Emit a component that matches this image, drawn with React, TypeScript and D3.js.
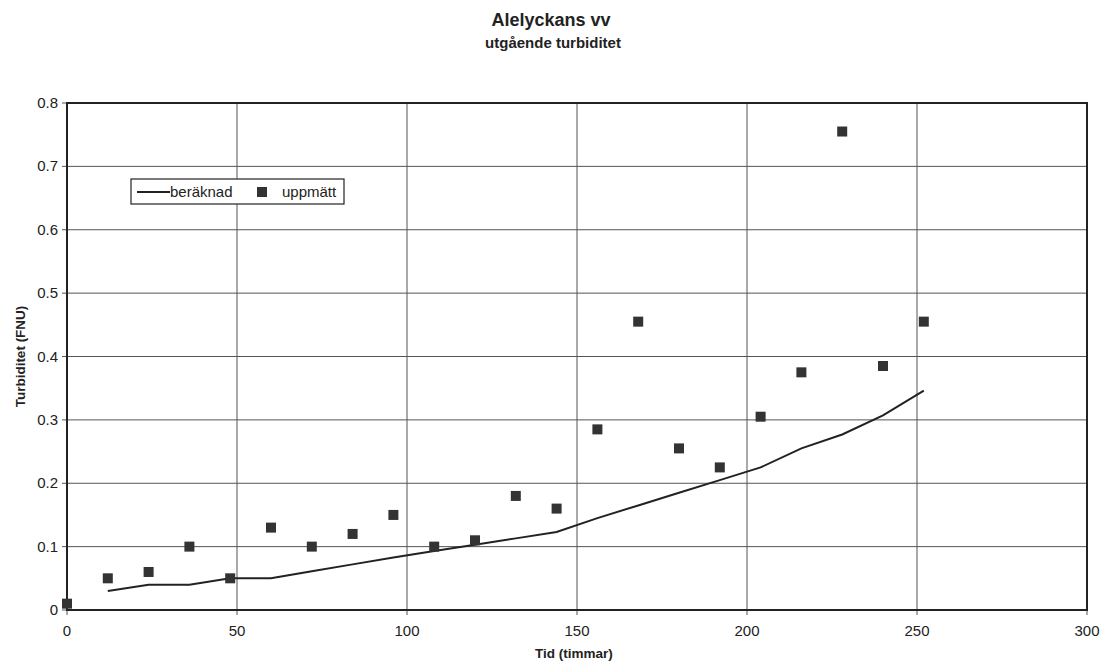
import React from "react";
import { scaleLinear, line, range } from "d3";

// hours since start
const hours = [0, 12, 24, 36, 48, 60, 72, 84, 96, 108, 120, 132, 144, 156, 168, 180, 192, 204, 216, 228, 240, 252];
// measured turbidity (uppmätt)
const measured = [0.01, 0.05, 0.06, 0.1, 0.05, 0.13, 0.1, 0.12, 0.15, 0.1, 0.11, 0.18, 0.16, 0.285, 0.455, 0.255, 0.225, 0.305, 0.375, 0.755, 0.385, 0.455];
// calculated turbidity (beräknad), starts at 12 h
const calcHours = [12, 24, 36, 48, 60, 72, 84, 96, 108, 120, 132, 144, 156, 168, 180, 192, 204, 216, 228, 240, 252];
const calculated = [0.03, 0.04, 0.04, 0.05, 0.05, 0.061, 0.072, 0.083, 0.093, 0.103, 0.113, 0.123, 0.145, 0.165, 0.185, 0.205, 0.225, 0.255, 0.277, 0.307, 0.346];

const xTicks = [0, 50, 100, 150, 200, 250, 300];
const yTicks = [0, 0.1, 0.2, 0.3, 0.4, 0.5, 0.6, 0.7, 0.8];

const W = 1102;
const H = 666;
const margin = { top: 103, right: 15, bottom: 56, left: 67 };

export default function App() {
  const x = scaleLinear().domain([0, 300]).range([margin.left, W - margin.right]);
  const y = scaleLinear().domain([0, 0.8]).range([H - margin.bottom, margin.top]);

  const calcLine = line<number>()
    .x((_, i) => x(calcHours[i]))
    .y((d) => y(d));

  const font = "'Liberation Sans', Arial, sans-serif";
  const ink = "#222";
  const sq = 10;

  return (
    <svg
      width={W}
      height={H}
      style={{ position: "absolute", left: 0, top: 0, background: "#fff" }}
      fontFamily={font}
    >
      {/* titles */}
      <text x={551} y={26} textAnchor="middle" fontSize={18} fontWeight="bold" fill={ink}>
        Alelyckans vv
      </text>
      <text x={553} y={48} textAnchor="middle" fontSize={15} fontWeight="bold" fill={ink}>
        utgående turbiditet
      </text>

      {/* gridlines */}
      {yTicks.map((t) => (
        <line key={"gy" + t} x1={x(0) - 5} x2={x(300)} y1={y(t)} y2={y(t)} stroke="#555" strokeWidth={1} />
      ))}
      {xTicks.map((t) => (
        <line key={"gx" + t} x1={x(t)} x2={x(t)} y1={y(0.8)} y2={y(0) + 5} stroke="#555" strokeWidth={1} />
      ))}

      {/* frame */}
      <rect
        x={x(0)}
        y={y(0.8)}
        width={x(300) - x(0)}
        height={y(0) - y(0.8)}
        fill="none"
        stroke={ink}
        strokeWidth={2}
      />

      {/* tick labels */}
      {yTicks.map((t) => (
        <text key={"ly" + t} x={x(0) - 9} y={y(t) + 5} textAnchor="end" fontSize={15} fill={ink}>
          {t === 0 ? "0" : t.toFixed(1)}
        </text>
      ))}
      {xTicks.map((t) => (
        <text key={"lx" + t} x={x(t)} y={y(0) + 26} textAnchor="middle" fontSize={15} fill={ink}>
          {t}
        </text>
      ))}

      {/* axis titles */}
      <text x={574} y={658} textAnchor="middle" fontSize={13.5} fontWeight="bold" fill={ink}>
        Tid (timmar)
      </text>
      <text
        transform={`translate(25, ${(y(0) + y(0.8)) / 2}) rotate(-90)`}
        textAnchor="middle"
        fontSize={13.5}
        fontWeight="bold"
        fill={ink}
      >
        Turbiditet (FNU)
      </text>

      {/* calculated line */}
      <path d={calcLine(calculated) || ""} fill="none" stroke={ink} strokeWidth={2} />

      {/* measured points */}
      {range(hours.length).map((i) => (
        <rect
          key={"p" + i}
          x={x(hours[i]) - sq / 2}
          y={y(measured[i]) - sq / 2}
          width={sq}
          height={sq}
          fill="#333"
        />
      ))}

      {/* legend */}
      <g transform="translate(131, 179)">
        <rect x={0} y={0} width={213} height={25} fill="#fff" stroke={ink} strokeWidth={1.2} />
        <line x1={6} x2={39} y1={13} y2={13} stroke={ink} strokeWidth={2} />
        <text x={39} y={18} fontSize={15} fill={ink}>
          beräknad
        </text>
        <rect x={126} y={8} width={10} height={10} fill="#333" />
        <text x={151} y={18} fontSize={15} fill={ink}>
          uppmätt
        </text>
      </g>
    </svg>
  );
}
